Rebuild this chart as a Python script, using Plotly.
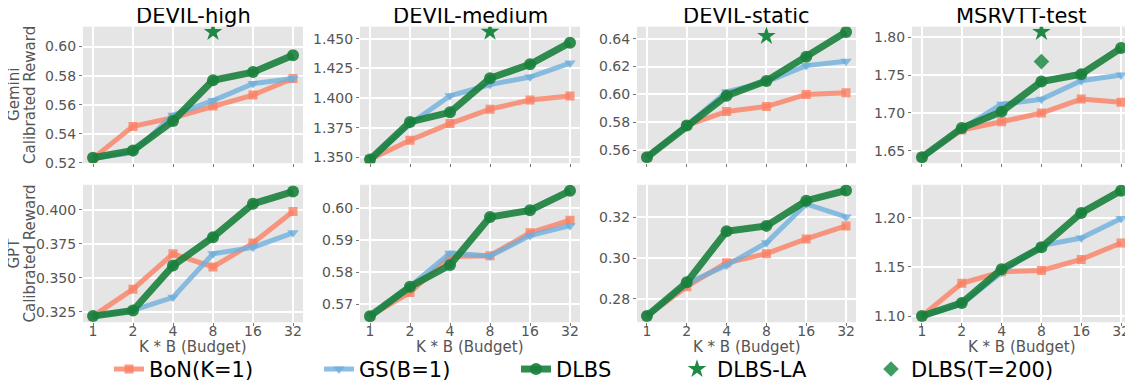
import math
import plotly.graph_objects as go

budgets = [1, 2, 4, 8, 16, 32]
budget_labels = ["1", "2", "4", "8", "16", "32"]
datasets = ["DEVIL-high", "DEVIL-medium", "DEVIL-static", "MSRVTT-test"]
row_judges = ["Gemini", "GPT"]
row_metric = "Calibrated Reward"
x_title = "K * B (Budget)"

# Gemini calibrated reward
gem_bon = [
    [0.523, 0.545, 0.551, 0.559, 0.5666, 0.578],
    [1.348, 1.3643, 1.3784, 1.3906, 1.3983, 1.4016],
    [0.5548, 0.5777, 0.5878, 0.5913, 0.600, 0.6012],
    [1.6413, 1.6774, 1.6883, 1.6997, 1.7182, 1.714],
]
gem_gs = [
    [0.523, 0.527, 0.5527, 0.5628, 0.5745, 0.578],
    [1.348, 1.378, 1.4019, 1.4113, 1.4177, 1.4295],
    [0.5548, 0.5777, 0.6019, 0.609, 0.6207, 0.6238],
    [1.6413, 1.679, 1.7113, 1.7178, 1.7425, 1.750],
]
gem_dlbs = [
    [0.5234, 0.5284, 0.5487, 0.5768, 0.5824, 0.594],
    [1.348, 1.3798, 1.3879, 1.4166, 1.4284, 1.4467],
    [0.5548, 0.5777, 0.5991, 0.6097, 0.627, 0.6449],
    [1.6413, 1.680, 1.7016, 1.7413, 1.751, 1.7856],
]
gem_la = [0.610, 1.4558, 0.6419, 1.8069]
gem_t200 = [None, None, None, 1.7677]

# GPT calibrated reward
gpt_bon = [
    [0.3218, 0.3416, 0.3676, 0.3579, 0.3755, 0.3986],
    [0.5662, 0.5736, 0.5849, 0.5851, 0.5923, 0.5962],
    [0.2717, 0.286, 0.2977, 0.3021, 0.3093, 0.3157],
    [1.100, 1.1334, 1.145, 1.1464, 1.1577, 1.1744],
]
gpt_gs = [
    [0.3218, 0.326, 0.3356, 0.3676, 0.3723, 0.383],
    [0.5662, 0.5755, 0.5859, 0.585, 0.5914, 0.5945],
    [0.2717, 0.2875, 0.2964, 0.3074, 0.3264, 0.3201],
    [1.100, 1.112, 1.1445, 1.1717, 1.1794, 1.1994],
]
gpt_dlbs = [
    [0.3218, 0.3259, 0.3589, 0.3798, 0.4043, 0.4133],
    [0.5662, 0.5754, 0.5822, 0.5972, 0.5993, 0.6054],
    [0.2717, 0.2881, 0.3131, 0.3157, 0.328, 0.333],
    [1.100, 1.1134, 1.1477, 1.170, 1.205, 1.2277],
]

gem_ranges = [[0.5197, 0.6137], [1.345, 1.4602], [0.5506, 0.6487], [1.6335, 1.8139]]
gem_ticks = [[0.52, 0.54, 0.56, 0.58, 0.60], [1.35, 1.375, 1.40, 1.425, 1.45],
             [0.56, 0.58, 0.60, 0.62, 0.64], [1.65, 1.70, 1.75, 1.80]]
gem_fmt = [".2f", ".3f", ".2f", ".2f"]
gpt_ranges = [[0.3173, 0.4183], [0.5643, 0.6073], [0.2686, 0.3358], [1.0937, 1.2337]]
gpt_ticks = [[0.325, 0.35, 0.375, 0.40], [0.57, 0.58, 0.59, 0.60],
             [0.28, 0.30, 0.32], [1.10, 1.15, 1.20]]
gpt_fmt = [".3f", ".2f", ".2f", ".2f"]

C_BON = "rgba(250,128,100,0.8)"
C_GS = "rgba(110,175,220,0.8)"
C_DLBS = "rgba(26,128,60,0.9)"
C_LA = "#1f8a45"
C_T200 = "rgba(30,140,70,0.85)"

W, H = 1133, 389
OFF = 8  # page body margin offset of the figure
xcols = [(83, 303), (360, 580), (637, 856), (912, 1131)]
yrows = [(27, 166), (188, 328)]


def fx(px):
    return (px - OFF) / W


def fy(py):
    return (H - (py - OFF)) / H


fig = go.Figure()
FONT = "DejaVu Sans"
TICKC = "#555555"

xr = [math.log10(1) - 0.25 * math.log10(2), math.log10(32) + 0.25 * math.log10(2)]

for r in range(2):
    for c in range(4):
        idx = r * 4 + c + 1
        xa = "x" if idx == 1 else f"x{idx}"
        ya = "y" if idx == 1 else f"y{idx}"
        xk = "xaxis" if idx == 1 else f"xaxis{idx}"
        yk = "yaxis" if idx == 1 else f"yaxis{idx}"
        if r == 0:
            bon, gs, dl = gem_bon[c], gem_gs[c], gem_dlbs[c]
            rng, tv, fmt = gem_ranges[c], gem_ticks[c], gem_fmt[c]
        else:
            bon, gs, dl = gpt_bon[c], gpt_gs[c], gpt_dlbs[c]
            rng, tv, fmt = gpt_ranges[c], gpt_ticks[c], gpt_fmt[c]
        first = idx == 1
        fig.add_trace(go.Scatter(x=budgets, y=bon, xaxis=xa, yaxis=ya, mode="lines+markers",
                                 name="BoN(K=1)", legend="legend", showlegend=first,
                                 line=dict(color=C_BON, width=5),
                                 marker=dict(symbol="square", size=9, color=C_BON)))
        fig.add_trace(go.Scatter(x=budgets, y=gs, xaxis=xa, yaxis=ya, mode="lines+markers",
                                 name="GS(B=1)", legend="legend2", showlegend=first,
                                 line=dict(color=C_GS, width=5),
                                 marker=dict(symbol="triangle-down", size=10, color=C_GS)))
        fig.add_trace(go.Scatter(x=budgets, y=dl, xaxis=xa, yaxis=ya, mode="lines+markers",
                                 name="DLBS", legend="legend3", showlegend=first,
                                 line=dict(color=C_DLBS, width=7),
                                 marker=dict(symbol="circle", size=12, color=C_DLBS)))
        if r == 0:
            fig.add_trace(go.Scatter(x=[8], y=[gem_la[c]], xaxis=xa, yaxis=ya, mode="markers",
                                     name="DLBS-LA", legend="legend4", showlegend=first,
                                     marker=dict(symbol="star", size=14, color=C_LA)))
            if gem_t200[c] is not None:
                fig.add_trace(go.Scatter(x=[8], y=[gem_t200[c]], xaxis=xa, yaxis=ya, mode="markers",
                                         name="DLBS(T=200)", legend="legend5", showlegend=True,
                                         marker=dict(symbol="diamond", size=12, color=C_T200)))
        x0, x1 = xcols[c]
        y0, y1 = yrows[r]
        fig.layout[xk] = dict(
            domain=[fx(x0), fx(x1)], anchor=ya, type="log", range=xr,
            tickvals=budgets, ticktext=budget_labels, showticklabels=(r == 1),
            ticks="outside", ticklen=3, tickcolor="#777777", ticklabelstandoff=-7,
            showgrid=True, gridcolor="white", gridwidth=1.5, zeroline=False,
            tickfont=dict(family=FONT, size=14, color=TICKC),
            showline=False,
        )
        fig.layout[yk] = dict(
            domain=[fy(y1), fy(y0)], anchor=xa, range=rng,
            tickvals=tv, tickformat=fmt,
            ticks="outside", ticklen=3, tickcolor="#777777",
            showgrid=True, gridcolor="white", gridwidth=1.5, zeroline=False,
            tickfont=dict(family=FONT, size=14, color=TICKC),
            showline=False,
        )
        if c == 0:
            for txt, xpx in ((row_judges[r], 14), (row_metric, 30)):
                fig.add_annotation(text=txt, xref="paper", yref="paper",
                                   x=fx(xpx), y=fy((y0 + y1) / 2), xanchor="center", yanchor="middle",
                                   textangle=-90, showarrow=False,
                                   font=dict(family=FONT, size=15, color=TICKC))
        if r == 0:
            fig.add_annotation(text=datasets[c], xref="paper", yref="paper",
                               x=fx((x0 + x1) / 2), y=fy(16), xanchor="center", yanchor="middle",
                               showarrow=False, font=dict(family=FONT, size=21, color="black"))
        else:
            fig.add_annotation(text=x_title, xref="paper", yref="paper",
                               x=fx((x0 + x1) / 2), y=fy(353), xanchor="center", yanchor="middle",
                               showarrow=False, font=dict(family=FONT, size=15, color=TICKC))

leg_text_starts = [151, 361, 558, 719, 913]
leg_names = ["legend", "legend2", "legend3", "legend4", "legend5"]
legend_layout = {}
for name, tx in zip(leg_names, leg_text_starts):
    legend_layout[name] = dict(
        orientation="h", x=fx(tx - 42), y=fy(376), xanchor="left", yanchor="middle",
        font=dict(family=FONT, size=21, color="black"),
        bgcolor="rgba(0,0,0,0)", borderwidth=0,
    )

fig.update_layout(
    width=W, height=H,
    margin=dict(l=0, r=0, t=0, b=0),
    paper_bgcolor="white",
    plot_bgcolor="#e5e5e5",
    font=dict(family=FONT),
    **legend_layout,
)

fig.write_html("out.html")
